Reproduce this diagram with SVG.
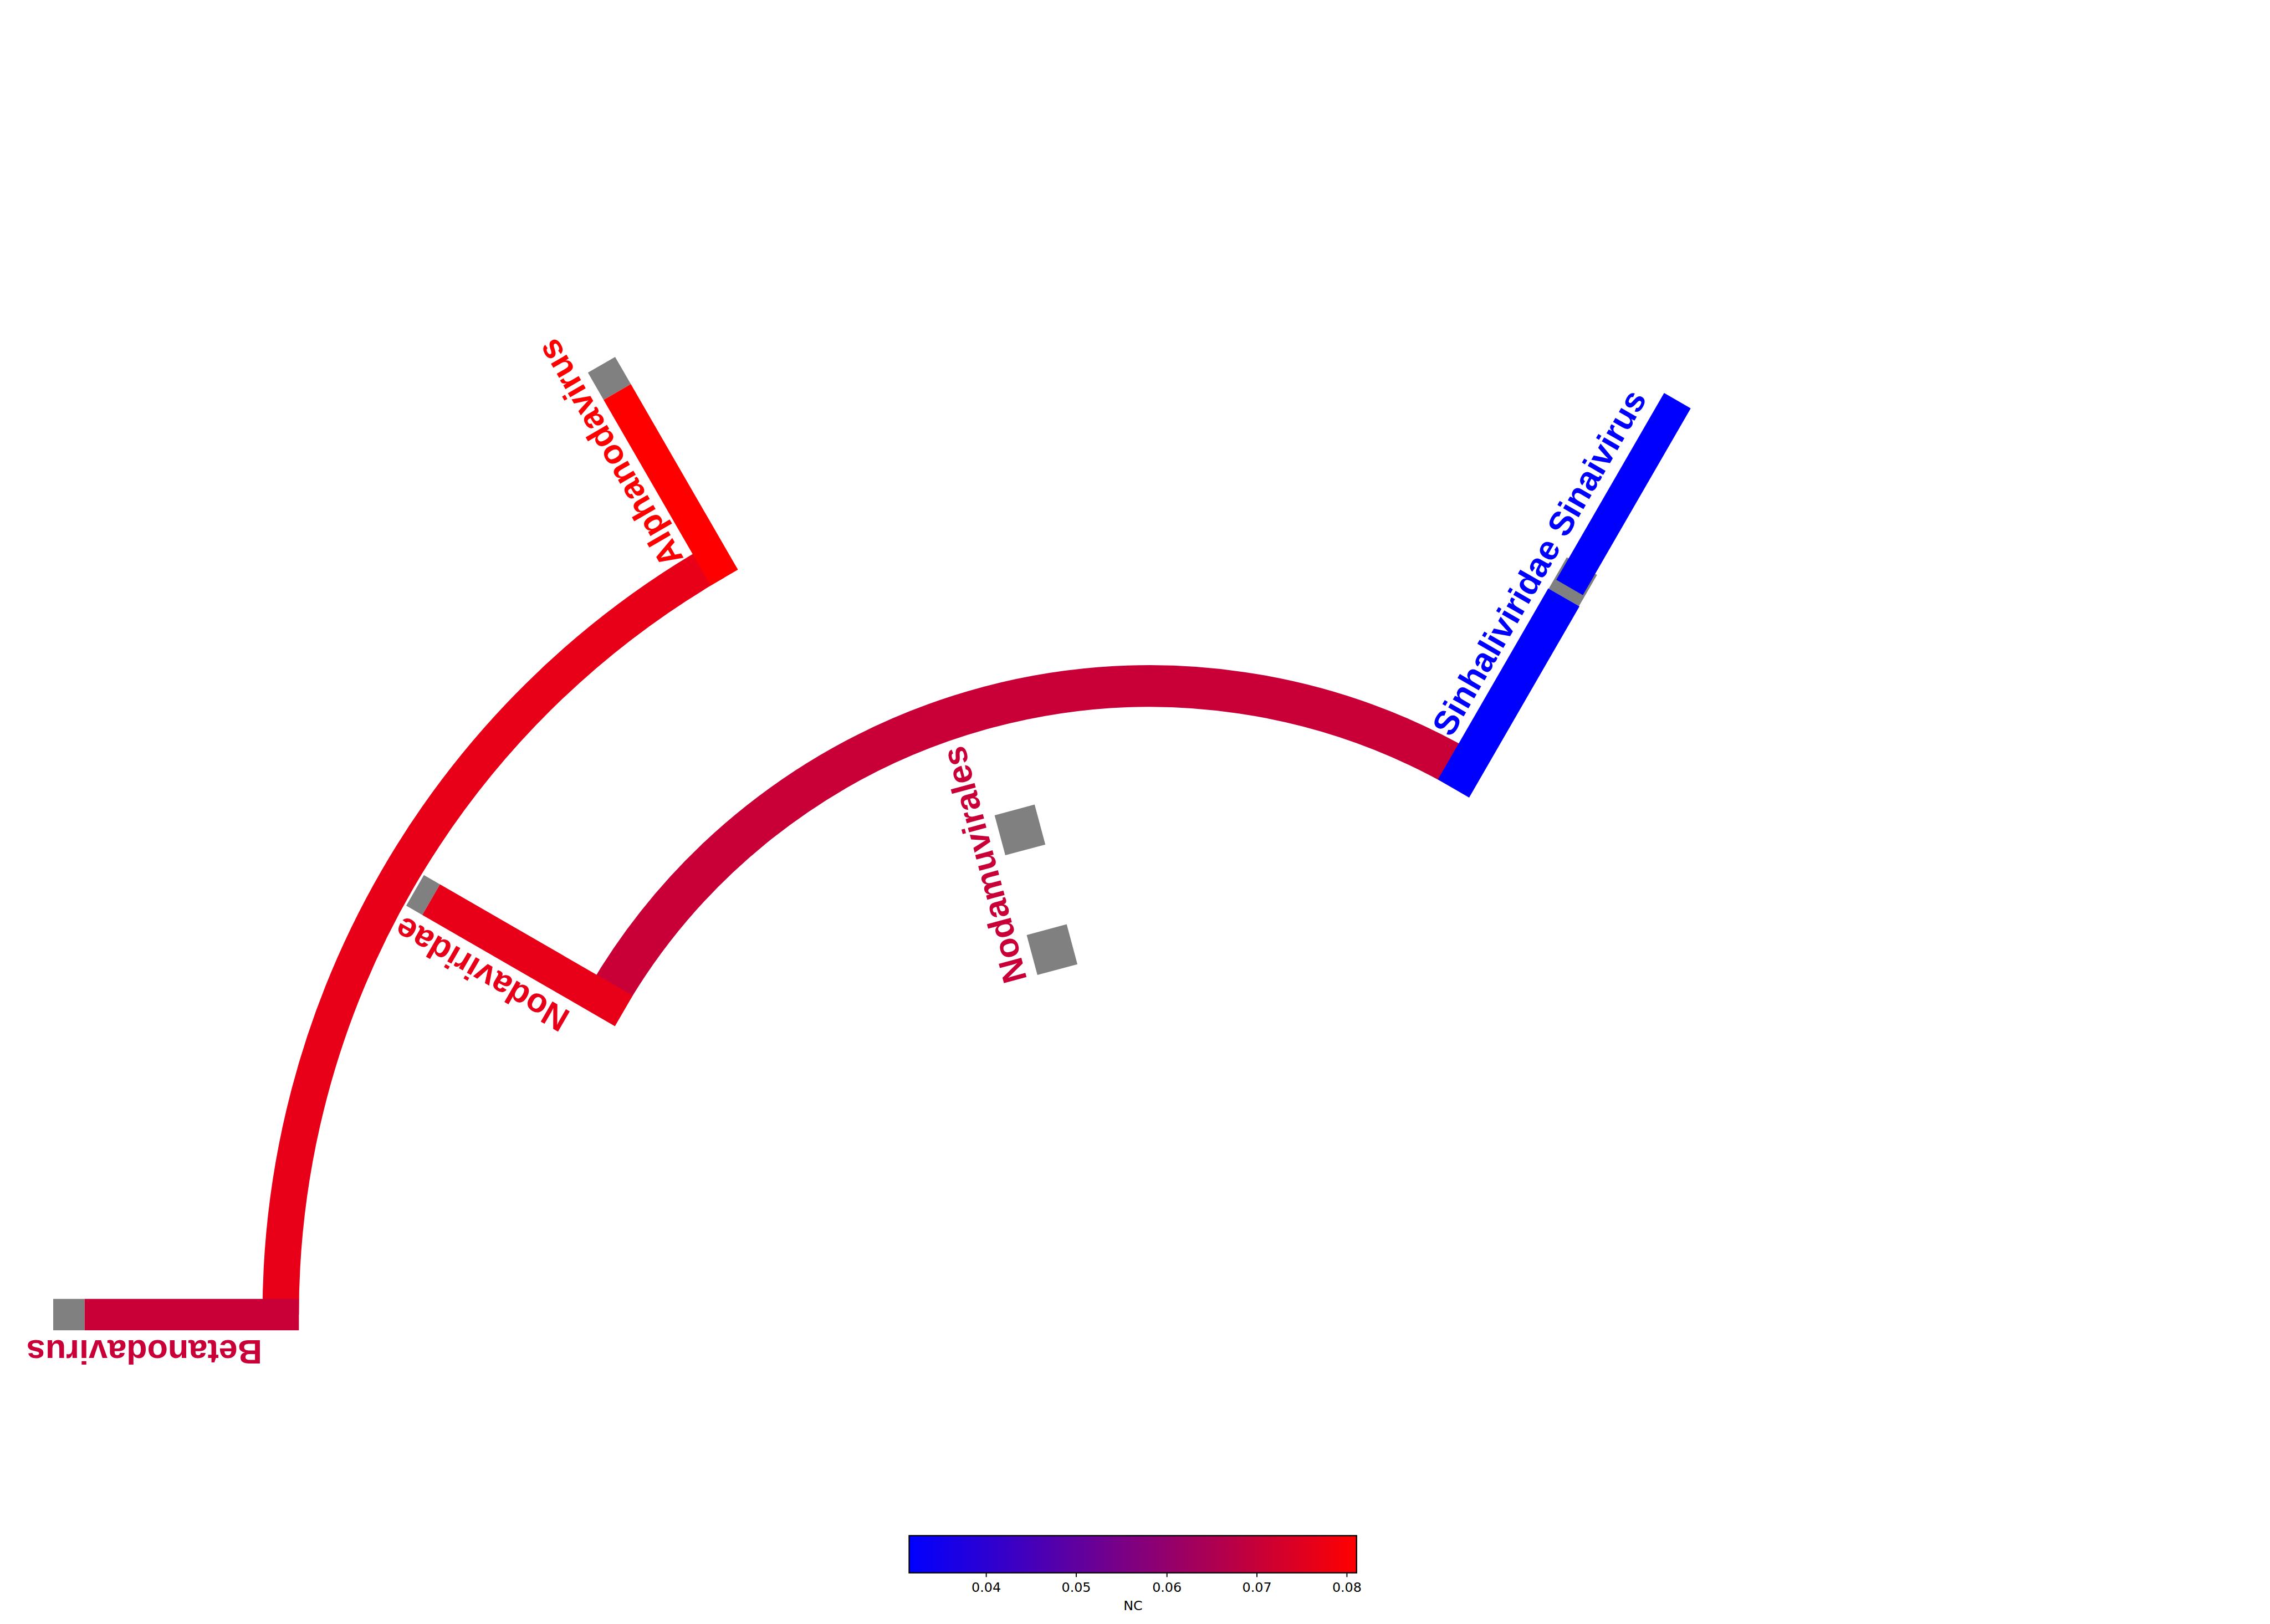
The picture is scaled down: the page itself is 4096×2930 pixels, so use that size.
<svg xmlns="http://www.w3.org/2000/svg" width="4096" height="2930" viewBox="0 0 4096 2930">
<style>
.lbl{font-family:"Liberation Sans",Arial,sans-serif;font-weight:bold;font-size:95px}
.tick{font-family:"DejaVu Sans",sans-serif;font-size:37px;fill:#000}
.gray{fill:#808080}
.crim{fill:#C80037}
.red2{fill:#E70018}
.red{fill:#FF0000}
.blue{fill:#0000FF}
</style>
<defs>
<linearGradient id="cmap" x1="0" y1="0" x2="1" y2="0">
<stop offset="0" stop-color="#0000FF"/>
<stop offset="1" stop-color="#FF0000"/>
</linearGradient>
</defs>
<rect width="4096" height="2930" fill="#fff"/>
<g transform="scale(0.644329)">
<g transform="translate(3220,3681)">
<g id="node-nodamuvirales" transform="rotate(-105)">
<rect class="gray" x="1000" y="-58" width="116" height="116"/>
<rect class="gray" x="1347" y="-58" width="116" height="116"/>
<text class="lbl crim" x="996" y="-89">Nodamuvirales</text>
</g>
<g id="node-nodaviridae" transform="rotate(-150)">
<rect class="gray" x="2324" y="-49.5" width="52" height="99"/>
<text class="lbl red2" x="1825" y="-77">Nodaviridae</text>
</g>
<g id="node-betanodavirus" transform="rotate(-180)">
<rect class="gray" x="2983" y="-44" width="88" height="88"/>
<text class="lbl crim" x="2486" y="-71">Betanodavirus</text>
</g>
<g id="node-alphanodavirus" transform="rotate(-120)">
<rect class="gray" x="2983" y="-44" width="88" height="88"/>
<text class="lbl red" x="2486" y="-71">Alphanodavirus</text>
</g>
<g id="node-sinhaliviridae" transform="rotate(-60)">
<rect class="gray" x="2319" y="-49" width="101" height="98"/>
<text class="lbl blue" x="1820" y="-76">Sinhaliviridae Sinaivirus</text>
</g>
</g>
<g id="connectors" transform="translate(3220,3681)">
<path d="M -2434 0 A 2434 2434 0 0 1 -1217 -2107.9" fill="none" stroke="#E70018" stroke-width="102"/>
<path d="M -1524.2 -880 A 1760 1760 0 0 1 880 -1524.2" fill="none" stroke="#C80037" stroke-width="117"/>
<rect class="crim" transform="rotate(-180)" x="2383" y="-44" width="600" height="88"/>
<rect class="red" transform="rotate(-120)" x="2383" y="-44" width="600" height="88"/>
<rect class="red2" transform="rotate(-150)" x="1701" y="-49.5" width="623" height="99"/>
<rect class="blue" transform="rotate(-60)" x="1701" y="-50.5" width="618" height="101"/>
<rect class="blue" transform="rotate(-60)" x="2351" y="-43" width="604" height="86"/>
</g>
<g id="colorbar">
<rect x="2546" y="4300" width="1253" height="104" fill="url(#cmap)" stroke="#000" stroke-width="3.5"/>
<g stroke="#000" stroke-width="3">
<line x1="2762" y1="4404" x2="2762" y2="4416"/>
<line x1="3014" y1="4404" x2="3014" y2="4416"/>
<line x1="3268" y1="4404" x2="3268" y2="4416"/>
<line x1="3520" y1="4404" x2="3520" y2="4416"/>
<line x1="3772" y1="4404" x2="3772" y2="4416"/>
</g>
<g class="tick" text-anchor="middle">
<text x="2762" y="4458">0.04</text>
<text x="3014" y="4458">0.05</text>
<text x="3268" y="4458">0.06</text>
<text x="3520" y="4458">0.07</text>
<text x="3772" y="4458">0.08</text>
<text x="3173" y="4508">NC</text>
</g>
</g>
</g>
</svg>
